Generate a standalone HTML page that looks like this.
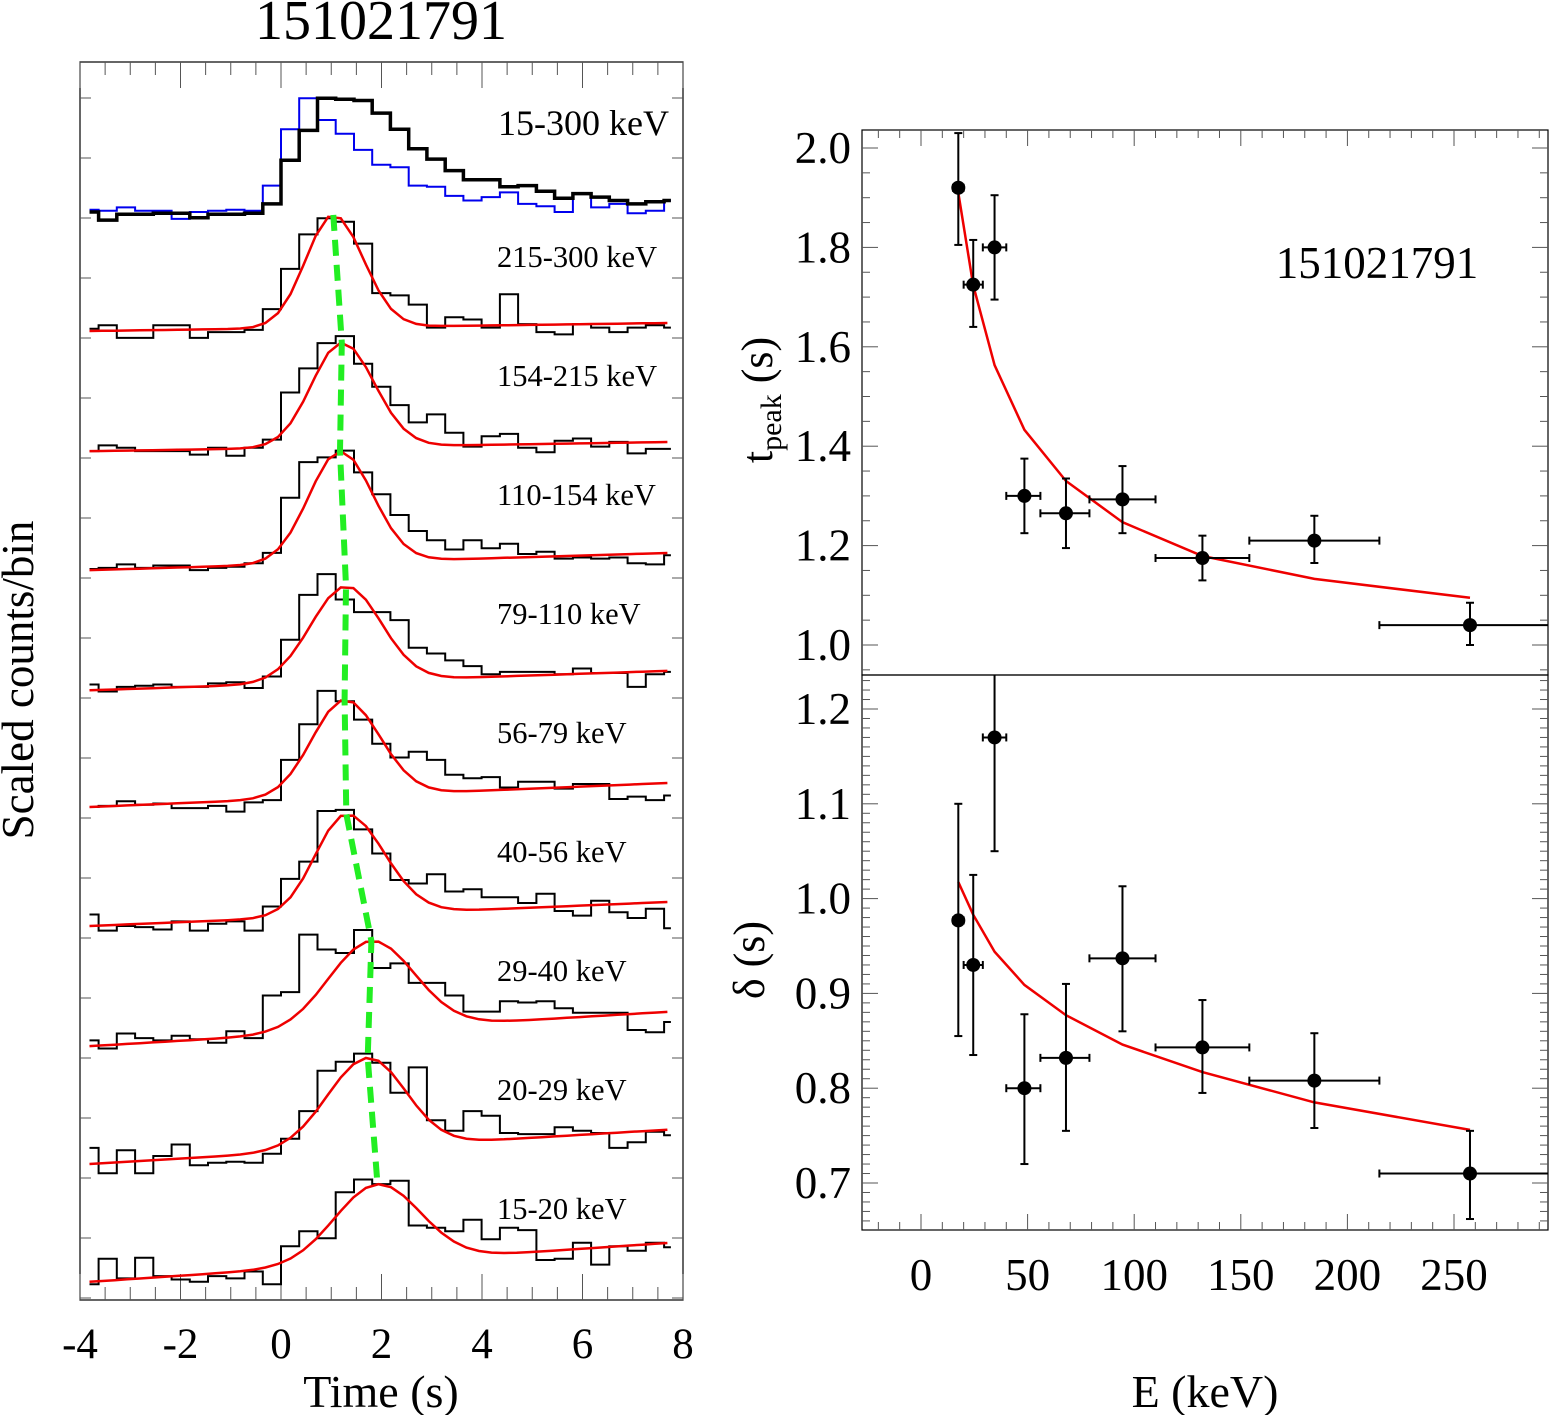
<!DOCTYPE html>
<html><head><meta charset="utf-8"><style>
html,body{margin:0;padding:0;background:#fff;}
svg{display:block;font-family:"Liberation Serif","DejaVu Serif",serif;}
</style></head><body>
<svg id="fig" width="1550" height="1415" viewBox="0 0 1550 1415" xmlns="http://www.w3.org/2000/svg">
<text x="381" y="39" font-size="56" text-anchor="middle">151021791</text>
<text transform="translate(33,680) rotate(-90)" font-size="45" text-anchor="middle">Scaled counts/bin</text>
<text x="381" y="1407" font-size="46" text-anchor="middle">Time (s)</text>
<text transform="translate(772,400) rotate(-90)" font-size="44" text-anchor="middle">t<tspan font-size="30" dy="9">peak</tspan><tspan dy="-9"> (s)</tspan></text>
<text transform="translate(764,960) rotate(-90)" font-size="44" text-anchor="middle">δ (s)</text>
<text x="1205" y="1407" font-size="46" text-anchor="middle">E (keV)</text>
<text x="1377" y="278" font-size="45" text-anchor="middle">151021791</text>
<g id="left"></g>
<g id="right"></g>
</svg>
<script>
// ---------- Left panel data ----------
const binStart = -3.993;
const binWidth = 0.363;
const bandLabels = ["15-300 keV","215-300 keV","154-215 keV","110-154 keV","79-110 keV","56-79 keV","40-56 keV","29-40 keV","20-29 keV","15-20 keV"];
// scaled counts (0 = background, 1 = peak) — top panel black and blue
const lcAllBlack = [0,-0.07,-0.02,-0.02,-0.01,-0.01,-0.05,-0.02,-0.02,-0.01,0.07,0.45,0.71,0.99,0.98,0.97,0.86,0.72,0.55,0.46,0.36,0.28,0.28,0.22,0.23,0.18,0.12,0.16,0.13,0.10,0.07,0.09,0.10];
const lcAllBlue = [0.02,0.01,0.04,0.01,0.01,-0.06,0,0.01,0.02,0.01,0.23,0.72,0.99,0.80,0.68,0.54,0.41,0.39,0.23,0.22,0.14,0.10,0.13,0.17,0.07,0.05,0,0.16,0.04,0.07,-0.01,0.01,0.10];
const lc215 = [0.02,0.05,-0.06,-0.06,0.05,0.05,-0.06,-0.01,-0.01,0.01,0.19,0.54,0.84,0.98,0.95,0.76,0.33,0.31,0.23,0.03,0.12,0.10,0.03,0.32,0.06,-0.01,-0.03,0.06,0.03,-0.01,0.03,0.05,0.03];
const lc154 = [-0.01,0.04,0.02,-0.01,-0.01,-0.01,-0.04,0.02,-0.05,0.02,0.09,0.50,0.71,0.93,0.99,0.75,0.55,0.39,0.24,0.31,0.15,0.03,0.12,0.14,0.02,-0.02,0.08,0.10,0.03,0.07,-0.03,0.01,0.01];
const lc110 = [0,0.01,0.04,0.01,0.03,0.03,-0.01,0.01,0.02,0.05,0.14,0.62,0.93,0.97,1.03,0.84,0.65,0.47,0.33,0.25,0.17,0.25,0.18,0.22,0.13,0.15,0.09,0.10,0.09,0.10,0.05,0.04,0.12];
const lc79 = [0.03,-0.03,0.01,0.02,0.03,0.01,0.01,0.04,0.05,0,0.10,0.42,0.81,0.99,0.77,0.66,0.66,0.59,0.35,0.30,0.24,0.19,0.12,0.14,0.14,0.14,0.12,0.17,0.13,0.13,0.01,0.12,0.14];
const lc56 = [0,0.01,0.05,0.02,0.03,-0.01,-0.01,0.01,-0.04,0.04,0.06,0.41,0.72,1.01,0.92,0.76,0.55,0.43,0.48,0.41,0.28,0.25,0.26,0.17,0.22,0.22,0.16,0.20,0.20,0.07,0.09,0.06,0.10];
const lc40 = [0.10,-0.04,0,-0.01,-0.03,0.04,-0.04,0.02,0.04,-0.04,0.17,0.41,0.56,1.0,1.01,0.84,0.63,0.40,0.37,0.45,0.30,0.32,0.25,0.25,0.20,0.28,0.13,0.09,0.22,0.12,0.07,0.15,-0.02];
const lc29 = [0.04,-0.03,0.10,0.06,0.04,0.08,0.05,0.02,0.12,0.06,0.43,0.46,0.96,0.83,0.80,1.0,0.67,0.71,0.54,0.54,0.43,0.29,0.29,0.38,0.37,0.38,0.32,0.28,0.28,0.28,0.13,0.11,0.20];
const lc20 = [0.14,-0.08,0.12,-0.08,0.07,0.17,-0.01,0.01,0.02,0.01,0.09,0.22,0.46,0.81,0.89,0.96,0.88,0.62,0.84,0.38,0.29,0.46,0.42,0.27,0.26,0.26,0.32,0.29,0.27,0.14,0.19,0.28,0.25];
const lc15 = [-0.01,0.21,0.04,0.22,0.06,0.03,0.01,0.06,0.04,0.10,-0.01,0.32,0.45,0.39,0.79,0.90,0.86,0.89,0.50,0.48,0.45,0.55,0.38,0.48,0.46,0.20,0.21,0.35,0.16,0.32,0.28,0.35,0.31];
const bandCounts = [lc215, lc154, lc110, lc79, lc56, lc40, lc29, lc20, lc15];
// pulse model parameters, one per band (215-300 ... 15-20)
const modelPeakTime = [1.04,1.21,1.175,1.293,1.265,1.30,1.80,1.725,1.92];
const modelAmp = [0.98,0.91,0.97,0.83,0.84,0.88,0.77,0.78,0.68];
const modelRise = [0.55,0.6,0.62,0.7,0.65,0.62,0.85,0.8,0.85];
const modelDecay = [0.6,0.65,0.65,0.7,0.7,0.75,0.85,0.75,0.85];
const modelBgLeft = [0,-0.01,-0.01,-0.02,0,0,-0.01,0,0.01];
const modelBgRight = [0.07,0.07,0.14,0.15,0.21,0.21,0.29,0.30,0.35];
const timeTicks = [-4,-2,0,2,4,6,8];

// ---------- Right panel data ----------
const energy = [17.5,24.5,34.5,48.5,68,94.5,132,184.5,257.5];
const energyLo = [15,20,29,40,56,79,110,154,215];
const energyHi = [20,29,40,56,79,110,154,215,300];
const tPeak = [1.92,1.725,1.80,1.30,1.265,1.293,1.175,1.21,1.04];
const tPeakLo = [1.805,1.64,1.695,1.225,1.195,1.225,1.13,1.165,1.0];
const tPeakHi = [2.03,1.815,1.905,1.375,1.335,1.36,1.22,1.26,1.085];
const tPeakFit = [1.91,1.724,1.563,1.433,1.33,1.247,1.179,1.133,1.095];
const delta = [0.977,0.93,1.17,0.80,0.832,0.937,0.843,0.808,0.71];
const deltaLo = [0.855,0.835,1.05,0.72,0.755,0.86,0.795,0.758,0.662];
const deltaHi = [1.10,1.025,1.25,0.878,0.91,1.013,0.893,0.858,0.755];
const deltaFit = [1.0175,0.983,0.944,0.909,0.877,0.846,0.817,0.785,0.756];
const energyTicks = [0,50,100,150,200,250];
const tPeakTicks = [1.0,1.2,1.4,1.6,1.8,2.0];
const deltaTicks = [0.7,0.8,0.9,1.0,1.1,1.2];

const NS = "http://www.w3.org/2000/svg";
function mk(parent, tag, attrs){const e=document.createElementNS(NS,tag);for(const k in attrs)e.setAttribute(k,attrs[k]);parent.appendChild(e);return e;}

// ---- left axes ----
const L = document.getElementById('left');
const LX0=80, LX1=683, LY0=62, LY1=1300;
const tMin=-3.81, tMax=7.76;
function X(t){return 281 + 50.25*t;}
const unitPx = 115;
function panelBase(k){return 212 + 119.0*k;}
function Yp(k,v){return panelBase(k) - v*unitPx;}

const lbox = mk(L,'rect',{x:LX0,y:LY0,width:LX1-LX0,height:LY1-LY0,fill:'none',stroke:'#000','stroke-width':1.2});


for(let t=-4;t<=8.001;t+=0.5){
  const major = Math.abs(t-Math.round(t/2)*2)<1e-6;
  const len = major?26:13;
  const x=X(t);
  const tk1=mk(L,'line',{x1:x,y1:LY1,x2:x,y2:LY1-len,stroke:'#555','stroke-width':1});
  
  
  const tk2=mk(L,'line',{x1:x,y1:LY0,x2:x,y2:LY0+len,stroke:'#555','stroke-width':1});
  
  
}
timeTicks.forEach(t=>{
  const tx=mk(L,'text',{x:X(t),y:1358,'font-size':43,'text-anchor':'middle'});
  tx.textContent = t<0 ? '-'+Math.abs(t) : String(t);
  
  
});
for(let y=98;y<LY1;y+=60){
  const a=mk(L,'line',{x1:LX0,y1:y,x2:LX0+11,y2:y,stroke:'#555','stroke-width':1});
  
  
  const b=mk(L,'line',{x1:LX1,y1:y,x2:LX1-11,y2:y,stroke:'#555','stroke-width':1});
  
  
}

function histPath(k, vals){
  let d='';
  for(let i=0;i<vals.length;i++){
    const a=Math.max(binStart+i*binWidth,tMin), b=Math.min(binStart+(i+1)*binWidth,tMax);
    if(b<=a) continue;
    const y=Yp(k,vals[i]).toFixed(1);
    if(d==='') d+='M'+X(a).toFixed(1)+','+y; else d+='V'+y;
    d+='H'+X(b).toFixed(1);
  }
  return d;
}
const pb = mk(L,'path',{d:histPath(0,lcAllBlue),fill:'none',stroke:'#0000ee','stroke-width':2});


const pk = mk(L,'path',{d:histPath(0,lcAllBlack),fill:'none',stroke:'#000','stroke-width':3.5});


const lt=mk(L,'text',{x:498,y:135,'font-size':36});
lt.textContent=bandLabels[0];



function model(i,t){
  const bg = modelBgLeft[i] + (modelBgRight[i]-modelBgLeft[i])*(t-tMin)/(tMax-tMin);
  const s = t<modelPeakTime[i]?modelRise[i]:modelDecay[i];
  return bg + modelAmp[i]*Math.exp(-Math.pow(t-modelPeakTime[i],2)/(2*s*s));
}
const peakPts=[];
bandCounts.forEach((vals,i)=>{
  const k=i+1;
  const h=mk(L,'path',{d:histPath(k,vals),fill:'none',stroke:'#000','stroke-width':2});
  
  
  let d='';
  for(let t=tMin;t<=tMax+1e-6;t+=0.25){d+=(d?'L':'M')+X(t).toFixed(1)+','+Yp(k,model(i,t)).toFixed(1);}
  const m=mk(L,'path',{d:d,fill:'none',stroke:'#ee0000','stroke-width':2.5});
  
  
  peakPts.push([X(modelPeakTime[i]),Yp(k,model(i,modelPeakTime[i]))]);
  const tx=mk(L,'text',{x:497,y:panelBase(k)-64,'font-size':30.5});
  tx.textContent=bandLabels[k];
  
  
});
const gl=mk(L,'polyline',{points:peakPts.map(p=>p.map(v=>v.toFixed(1)).join(',')).join(' '),fill:'none',stroke:'#22ee22','stroke-width':6,'stroke-dasharray':'16,9'});



// ---- right panels ----
const R=document.getElementById('right');
const RX0=862, RX1=1548;
function EX(e){return 921 + 2.132*e;}
function TY(v){return 148 + (2.0-v)*497;}
function DY(v){return 709 + (1.2-v)*948;}
function drawPanel(y0,y1,Yf,ticks,minorStep,vmin,vmax,xTop,xBottom,name){
  const r=mk(R,'rect',{x:RX0,y:y0,width:RX1-RX0,height:y1-y0,fill:'none',stroke:'#000','stroke-width':1.2});
  
  
  for(let v=vmin;v<=vmax+1e-6;v+=minorStep){
    const y=Yf(v); if(y<y0||y>y1) continue;
    const major=ticks.some(t=>Math.abs(t-v)<1e-6);
    const len=major?16:8;
    const a=mk(R,'line',{x1:RX0,y1:y,x2:RX0+len,y2:y,stroke:'#555','stroke-width':1});
    
    
    const b=mk(R,'line',{x1:RX1,y1:y,x2:RX1-len,y2:y,stroke:'#555','stroke-width':1});
    
    
  }
  ticks.forEach(t=>{
    const tx=mk(R,'text',{x:851,y:Yf(t)+15,'font-size':45,'text-anchor':'end'});
    tx.textContent=t.toFixed(1);
    
    
  });
  for(let e=-20;e<=300;e+=10){
    const x=EX(e); if(x<RX0||x>RX1) continue;
    const major=e%50===0, len=major?16:8;
    if(xTop){const a=mk(R,'line',{x1:x,y1:y0,x2:x,y2:y0+len,stroke:'#555','stroke-width':1});
      
      }
    if(xBottom){const b=mk(R,'line',{x1:x,y1:y1,x2:x,y2:y1-len,stroke:'#555','stroke-width':1});
      
      }
  }
}
drawPanel(130,675,TY,tPeakTicks,0.05,0.95,2.05,true,false,'tpeak-panel');
drawPanel(675,1230,DY,deltaTicks,0.01,0.64,1.24,false,true,'delta-panel');
energyTicks.forEach(e=>{
  const tx=mk(R,'text',{x:EX(e),y:1290,'font-size':45,'text-anchor':'middle'});
  tx.textContent=String(e);
  
  
});
function clampX(x){return Math.max(RX0,Math.min(RX1,x));}
function drawSeries(vals,lo,hi,fit,Yf,y0,y1,name){
  let d='';
  energy.forEach((e,i)=>{d+=(i?'L':'M')+EX(e).toFixed(1)+','+Yf(fit[i]).toFixed(1);});
  const f=mk(R,'path',{d:d,fill:'none',stroke:'#ee0000','stroke-width':2.5});
  
  
  energy.forEach((e,i)=>{
    const g=mk(R,'g',{stroke:'#000','stroke-width':2});
    
    
    const x=EX(e), y=Yf(vals[i]);
    const xa=clampX(EX(energyLo[i])), xb=clampX(EX(energyHi[i]));
    const ya=Math.min(y1,Yf(lo[i])), yb=Math.max(y0,Yf(hi[i]));
    mk(g,'line',{x1:xa,y1:y,x2:xb,y2:y});
    mk(g,'line',{x1:x,y1:ya,x2:x,y2:yb});
    if(EX(energyLo[i])>=RX0) mk(g,'line',{x1:xa,y1:y-4,x2:xa,y2:y+4});
    if(EX(energyHi[i])<=RX1) mk(g,'line',{x1:xb,y1:y-4,x2:xb,y2:y+4});
    if(Yf(lo[i])<=y1) mk(g,'line',{x1:x-4,y1:ya,x2:x+4,y2:ya});
    if(Yf(hi[i])>=y0) mk(g,'line',{x1:x-4,y1:yb,x2:x+4,y2:yb});
    const c=mk(R,'circle',{cx:x,cy:y,r:7,fill:'#000'});
    
    
  });
}
drawSeries(tPeak,tPeakLo,tPeakHi,tPeakFit,TY,130,675,'tpeak');
drawSeries(delta,deltaLo,deltaHi,deltaFit,DY,675,1230,'delta');
</script>
</body></html>
